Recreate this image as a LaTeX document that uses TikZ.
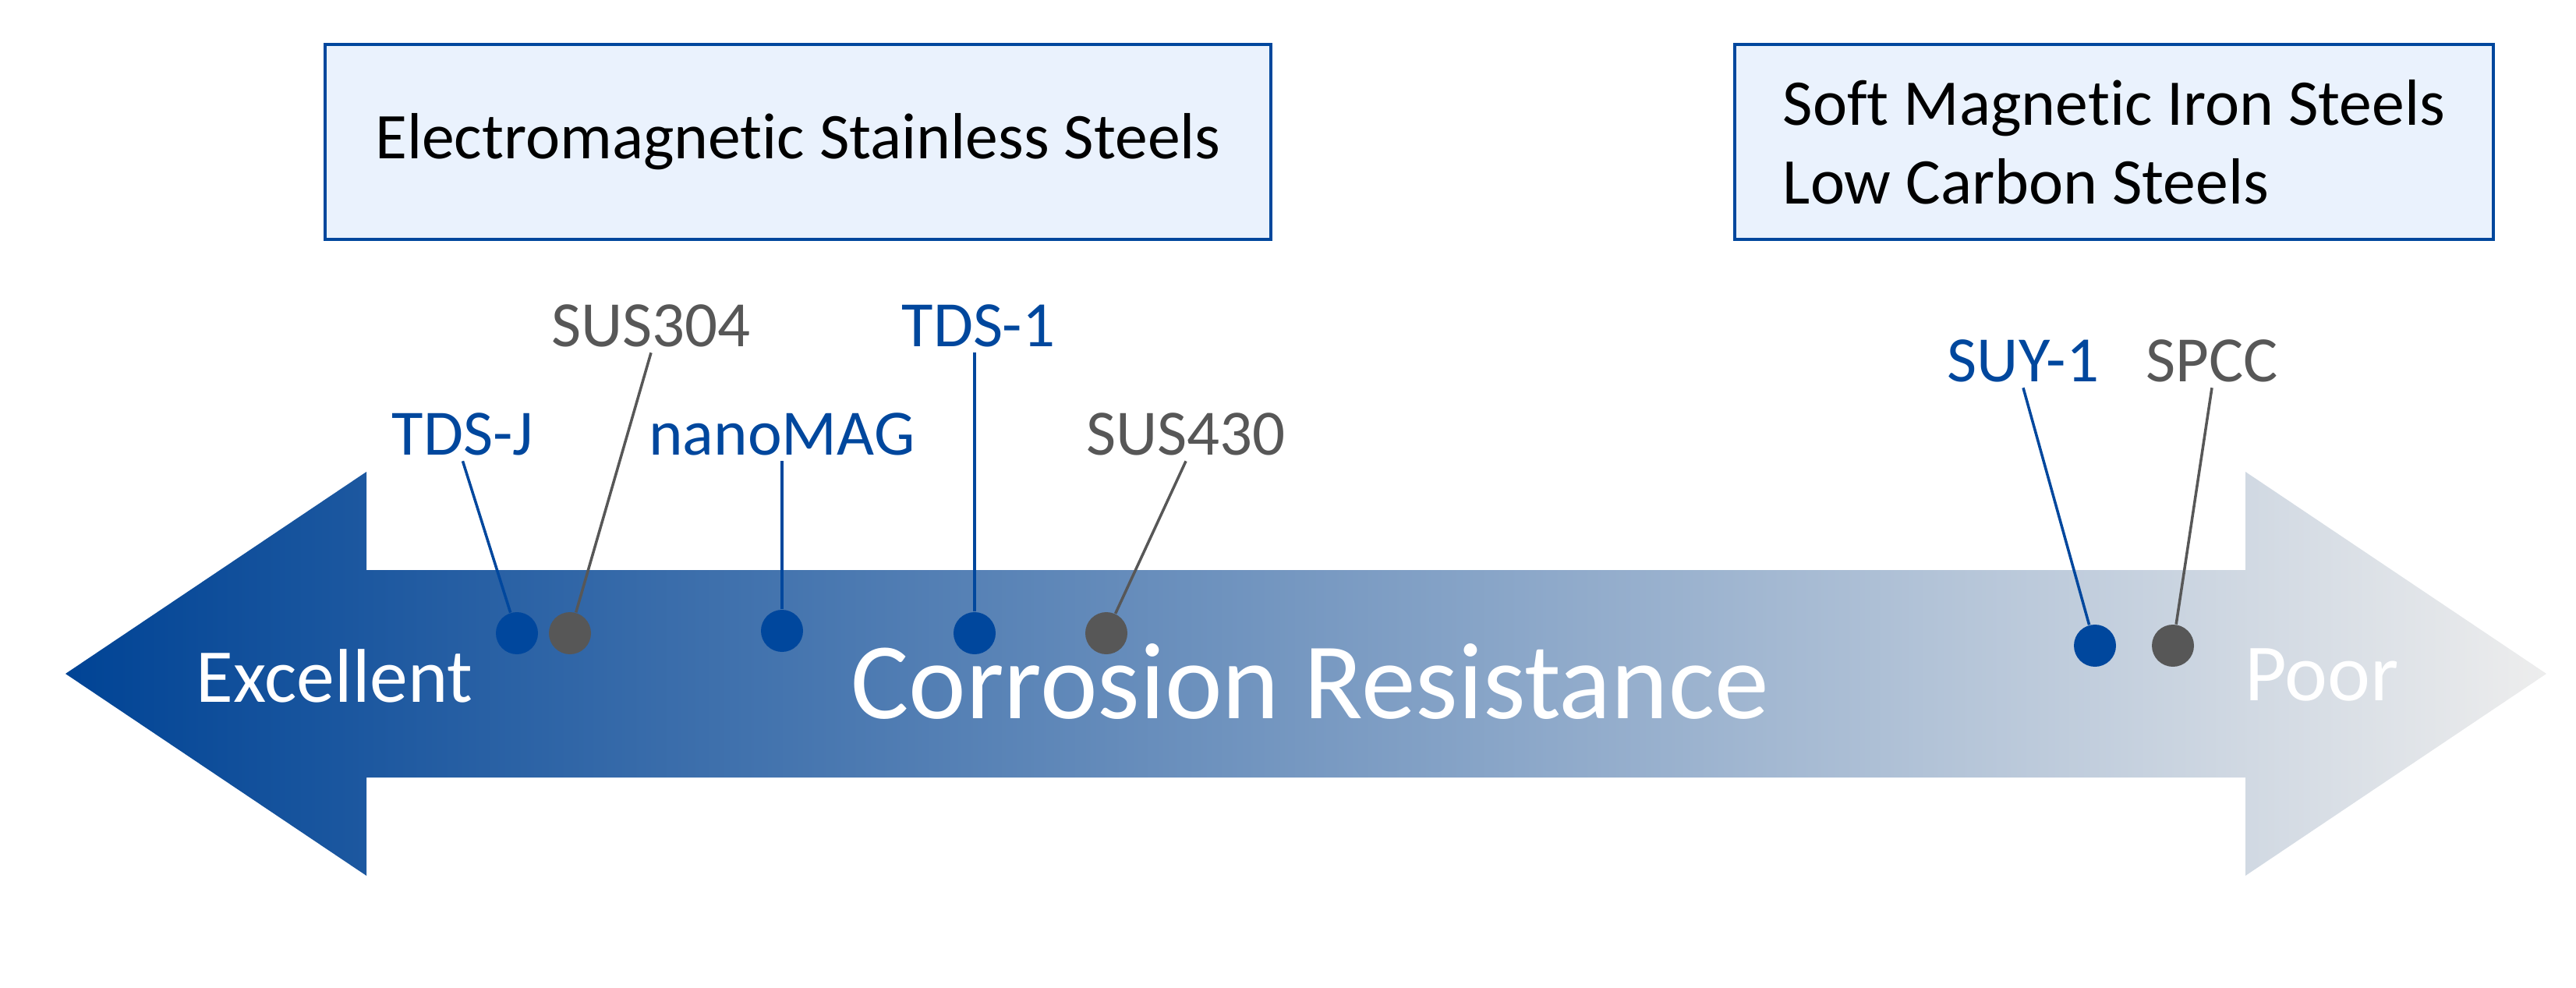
\documentclass[tikz,border=0pt]{standalone}
\usepackage{fontspec}
\setmainfont[Ligatures=NoCommon]{Carlito}
\usetikzlibrary{calc}
\definecolor{tdblue}{HTML}{00479D}
\definecolor{tdgray}{HTML}{575757}
\definecolor{boxfill}{HTML}{EAF2FD}
\tikzset{
	catbox/.style={draw=tdblue, line width=1pt, fill=boxfill, inner sep=0pt, font=\fontsize{23.8}{28.7}\selectfont},
	bluelbl/.style={anchor=base, text=tdblue, inner sep=2pt, font=\fontsize{23.6}{27}\selectfont},
	graylbl/.style={anchor=base, text=tdgray, inner sep=2pt, font=\fontsize{23.6}{27}\selectfont},
	bluedot/.style={circle, fill=tdblue, inner sep=0pt, minimum size=0.54cm},
	graydot/.style={circle, fill=tdgray, inner sep=0pt, minimum size=0.54cm},
}
\begin{document}
\begin{tikzpicture}
		%%%%% START %%%%%
		\useasboundingbox (0, 0) rectangle (33.04, 12.66);
		
		\shade[left color=tdblue!95!black, right color=black!7] (0.84, 4.02) -- (4.70, 6.61) -- (4.70, 5.35) -- (28.80, 5.35) -- (28.80, 6.61) -- (32.66, 4.02) -- (28.80, 1.43) -- (28.80, 2.69) -- (4.70, 2.69) -- (4.70, 1.43) -- cycle;
		
		\node[text=white, font=\fontsize{27.8}{30}\selectfont, anchor=base] (excellent) at (4.29, 3.66) {Excellent};
		\node[text=white, font=\fontsize{39.7}{44}\selectfont, anchor=base] (title) at (16.80, 3.45) {Corrosion Resistance};
		\node[text=white, font=\fontsize{29.6}{30}\selectfont, anchor=base] (poor) at (29.78, 3.68) {Poor};
		
		\node[catbox, minimum width=12.13cm, minimum height=2.5cm] (stainless) at (10.235, 10.84) {Electromagnetic Stainless Steels};
		\node[catbox, minimum width=9.73cm, minimum height=2.5cm, align=left] (iron) at (27.115, 10.84) {Soft Magnetic Iron Steels\\Low Carbon Steels};
		
		\node[bluelbl] (tdsj) at (5.935, 6.83) {TDS-J};
		\node[graylbl] (sus304) at (8.35, 8.22) {SUS304};
		\node[bluelbl] (nanomag) at (10.03, 6.83) {nanoMAG};
		\node[bluelbl] (tds1) at (12.55, 8.22) {TDS-1};
		\node[graylbl] (sus430) at (15.21, 6.83) {SUS430};
		\node[bluelbl] (suy1) at (25.95, 7.77) {SUY-1};
		\node[graylbl] (spcc) at (28.37, 7.77) {SPCC};
		
		\node[bluedot] (dtdsj) at (6.63, 4.54) {};
		\node[graydot] (dsus304) at (7.31, 4.54) {};
		\node[bluedot] (dnanomag) at (10.03, 4.57) {};
		\node[bluedot] (dtds1) at (12.50, 4.54) {};
		\node[graydot] (dsus430) at (14.19, 4.54) {};
		\node[bluedot] (dsuy1) at (26.87, 4.38) {};
		\node[graydot] (dspcc) at (27.87, 4.38) {};
		
		\draw[line width=1pt, color=tdblue] (tdsj.south) -- (dtdsj);
		\draw[line width=1pt, color=tdgray] (sus304.south) -- (dsus304);
		\draw[line width=1pt, color=tdblue] (nanomag.south) -- (dnanomag);
		\draw[line width=1pt, color=tdblue] (tds1.south -| dtds1) -- (dtds1);
		\draw[line width=1pt, color=tdgray] (sus430.south) -- (dsus430);
		\draw[line width=1pt, color=tdblue] (suy1.south) -- (dsuy1);
		\draw[line width=1pt, color=tdgray] (spcc.south) -- (dspcc);
		
		%%%%% END %%%%%
	\end{tikzpicture}
\end{document}
